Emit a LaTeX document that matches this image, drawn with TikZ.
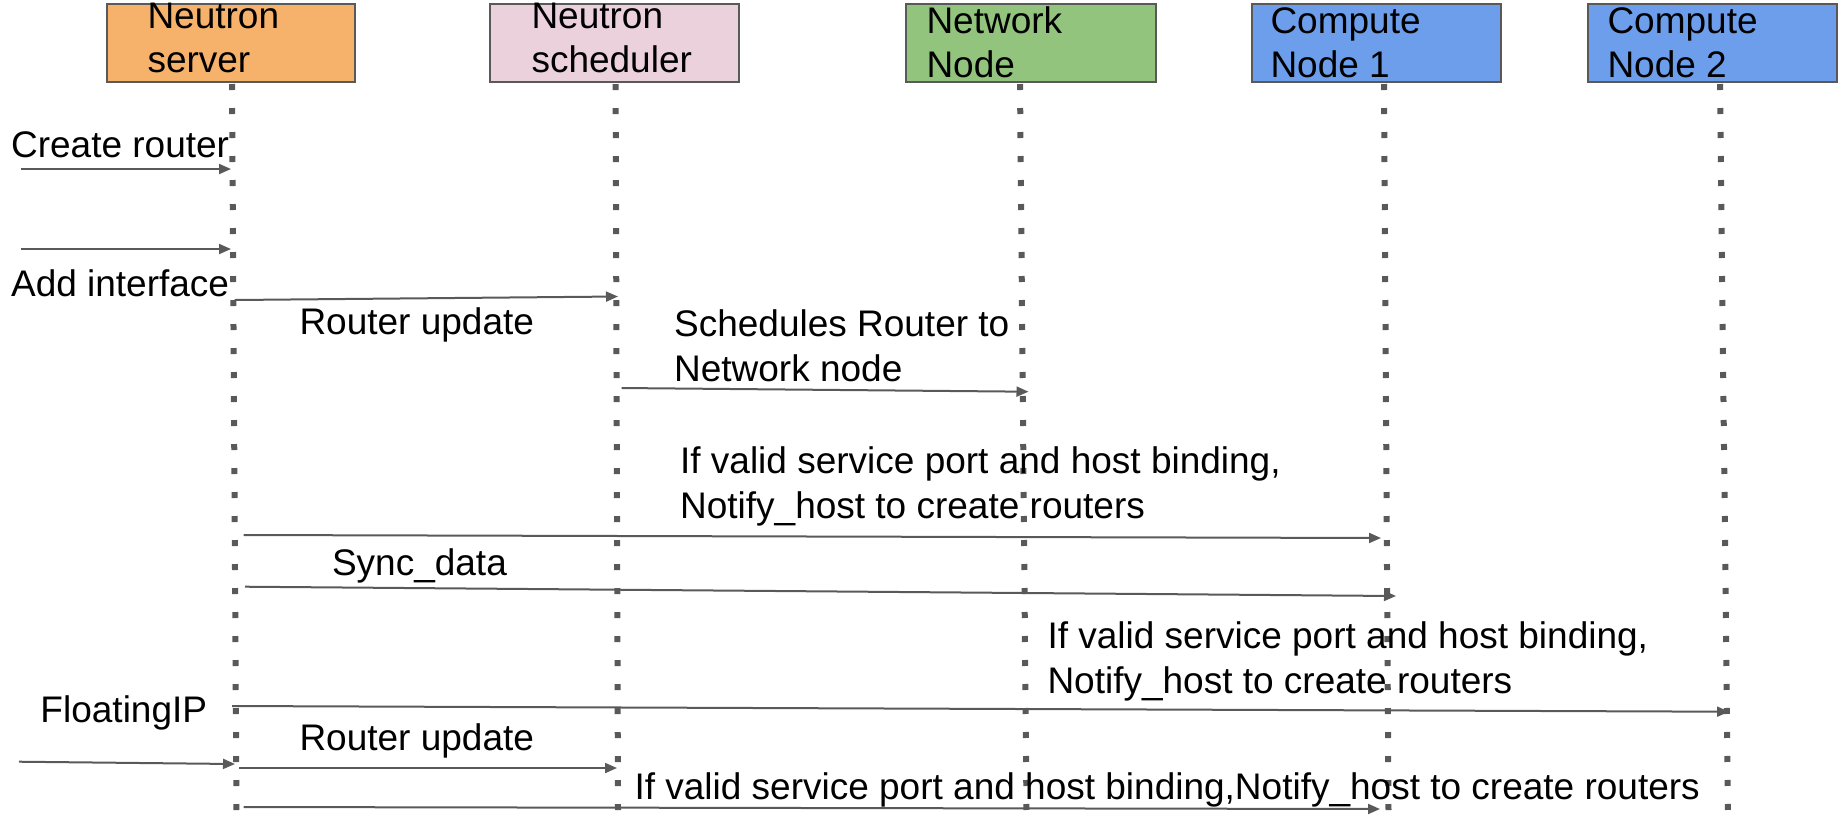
\documentclass[tikz,border=0pt]{standalone}
\usepackage{fontspec}
\setmainfont{Liberation Sans}
\usetikzlibrary{arrows.meta}
\definecolor{cOrange}{HTML}{F6B26B}
\definecolor{cPink}{HTML}{EAD1DC}
\definecolor{cGreen}{HTML}{93C47D}
\definecolor{cBlue}{HTML}{6D9EEB}
\definecolor{cLine}{HTML}{595959}
\begin{document}
\begin{tikzpicture}[x=0.4pt,y=-0.4pt,
  actor/.style={draw=cLine,line width=1pt},
  lbl/.style={anchor=base west,inner sep=0pt,font=\fontsize{14.8pt}{18pt}\selectfont},
  lifeline/.style={draw=cLine,line width=2.4pt,dash pattern=on 2.4pt off 7.2pt},
  msg/.style={draw=cLine,line width=0.8pt,-{Triangle[length=4.8pt,width=4pt]}}]
\useasboundingbox (0,0) rectangle (1839,822);
% header boxes
\draw[actor,fill=cOrange] (107,4) rectangle (355,82);
\draw[actor,fill=cPink] (490,4) rectangle (739,82);
\draw[actor,fill=cGreen] (906,4) rectangle (1156,82);
\draw[actor,fill=cBlue] (1252,4) rectangle (1501,82);
\draw[actor,fill=cBlue] (1588,4) rectangle (1837,82);
\node[lbl] (ns1) at (147,28) {Neutron};
\node[lbl] (ns2) at (147,72) {server};
\node[lbl] (sc1) at (531,28) {Neutron};
\node[lbl] (sc2) at (531,72) {scheduler};
\node[lbl] (nn1) at (926,33) {Network};
\node[lbl] (nn2) at (926,77) {Node};
\node[lbl] (ca1) at (1270,33) {Compute};
\node[lbl] (ca2) at (1270,77) {Node 1};
\node[lbl] (cb1) at (1607,33) {Compute};
\node[lbl] (cb2) at (1607,77) {Node 2};
% lifelines
\coordinate (t1) at (232,84);  \coordinate (b1) at (236.5,812);
\coordinate (t2) at (615.6,84); \coordinate (b2) at (618,812);
\coordinate (t3) at (1020,84); \coordinate (b3) at (1026.5,812);
\coordinate (t4) at (1384,84); \coordinate (b4) at (1388.5,812);
\coordinate (t5) at (1720,84); \coordinate (b5) at (1728,812);
\draw[lifeline] (t1) -- (b1);
\draw[lifeline] (t2) -- (b2);
\draw[lifeline] (t3) -- (b3);
\draw[lifeline] (t4) -- (b4);
\draw[lifeline] (t5) -- (b5);
% labels
\node[lbl] (l1) at (10.6,157) {Create router};
\node[lbl] (l2) at (10.6,296) {Add interface};
\node[lbl] (l3) at (299,334) {Router update};
\node[lbl] (l4a) at (673.6,336) {Schedules Router to};
\node[lbl] (l4b) at (673.6,381) {Network node};
\node[lbl] (l5a) at (679.6,473) {If valid service port and host binding,};
\node[lbl] (l5b) at (679.6,518) {Notify\_host to create routers};
\node[lbl] (l6) at (331.5,575) {Sync\_data};
\node[lbl] (l7a) at (1047,648) {If valid service port and host binding,};
\node[lbl] (l7b) at (1047,693) {Notify\_host to create routers};
\node[lbl] (l8) at (40,722) {FloatingIP};
\node[lbl] (l9) at (299,750) {Router update};
\node[lbl] (l10) at (634,799) {If valid service port and host binding,Notify\_host to create routers};
% messages
\coordinate (a1s) at (21,169);   \coordinate (a1e) at (231,169);
\coordinate (a2s) at (21,249);   \coordinate (a2e) at (231,249);
\coordinate (a3s) at (234.6,300); \coordinate (a3e) at (618,296.5);
\coordinate (a4s) at (621.6,388); \coordinate (a4e) at (1028.5,391.7);
\coordinate (a5s) at (243.5,535); \coordinate (a5e) at (1381,538);
\coordinate (a6s) at (245,586.7); \coordinate (a6e) at (1396,596);
\coordinate (a7s) at (232,706);  \coordinate (a7e) at (1729,711.7);
\coordinate (a8s) at (19,761.7); \coordinate (a8e) at (235,764);
\coordinate (a9s) at (239,768);  \coordinate (a9e) at (617,768);
\coordinate (a10s) at (243.5,807); \coordinate (a10e) at (1380,809);
\draw[msg] (a1s) -- (a1e);
\draw[msg] (a2s) -- (a2e);
\draw[msg] (a3s) -- (a3e);
\draw[msg] (a4s) -- (a4e);
\draw[msg] (a5s) -- (a5e);
\draw[msg] (a6s) -- (a6e);
\draw[msg] (a7s) -- (a7e);
\draw[msg] (a8s) -- (a8e);
\draw[msg] (a9s) -- (a9e);
\draw[msg] (a10s) -- (a10e);
\end{tikzpicture}
\end{document}
